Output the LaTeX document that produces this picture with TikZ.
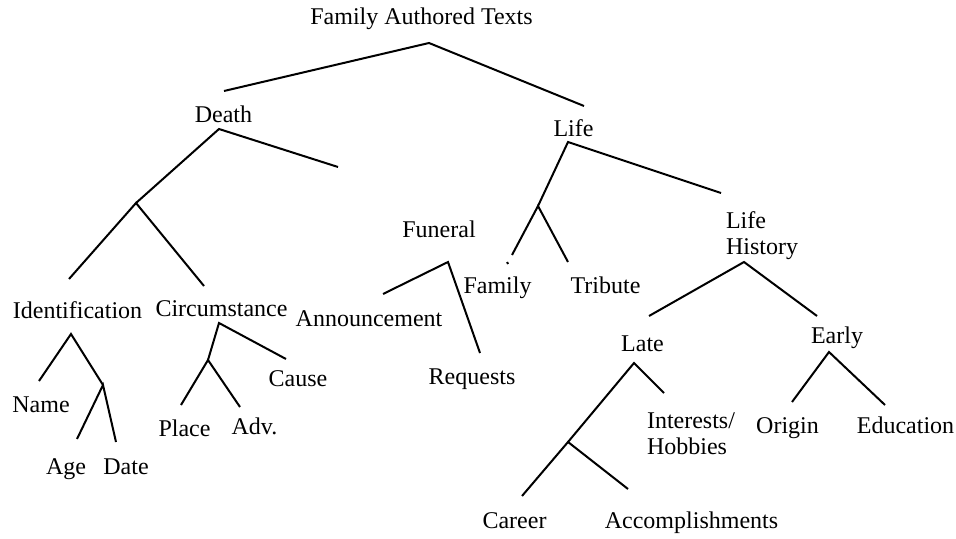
\documentclass[tikz,border=0pt]{standalone}
\usepackage{fontspec}
\setmainfont{Liberation Serif}
\begin{document}
\begin{tikzpicture}[x=0.5pt,y=-0.5pt,line width=1pt,
  lbl/.style={inner sep=0pt,anchor=base,font=\fontsize{12}{13}\selectfont},
  twoline/.style={lbl,anchor=north west,align=left}]
\useasboundingbox (0,0) rectangle (956,539);
% labels
\node[lbl] (root) at (421.5,25) {Family Authored Texts};
\node[lbl] (death) at (223.5,123) {Death};
\node[lbl] (life) at (573.5,137) {Life};
\node[lbl] (ident) at (77.5,318) {Identification};
\node[lbl] (circ) at (221.5,316) {Circumstance};
\node[lbl] (name) at (41,412) {Name};
\node[lbl] (age) at (66,474) {Age};
\node[lbl] (date) at (126,474) {Date};
\node[lbl] (place) at (184.5,436) {Place};
\node[lbl] (adv) at (254.5,434) {Adv.};
\node[lbl] (cause) at (298,386) {Cause};
\node[lbl] (funeral) at (439,238) {Funeral};
\node[lbl] (announce) at (369,326) {Announcement};
\node[lbl] (requests) at (472,384) {Requests};
\node[lbl] (family) at (497.5,293) {Family};
\node[lbl] (tribute) at (605.5,293) {Tribute};
\node[twoline] (lifehist) at (725,210.5) {Life\\History};
\node[lbl] (late) at (642.5,351) {Late};
\node[lbl] (early) at (837,343) {Early};
\node[twoline] (interests) at (646,411.5) {Interests/\\Hobbies};
\node[lbl] (career) at (514.5,528) {Career};
\node[lbl] (accomp) at (691.5,528) {Accomplishments};
\node[lbl] (origin) at (787.5,433) {Origin};
\node[lbl] (educ) at (905.5,433) {Education};
% junction points
\coordinate (rA) at (429,43);  \coordinate (rL) at (224,91);  \coordinate (rR) at (584,106);
\coordinate (dA) at (219,129); \coordinate (dR) at (338,167); \coordinate (dJ) at (136,203);
\coordinate (dJL) at (69,279); \coordinate (dJR) at (204,286);
\coordinate (iA) at (71,334);  \coordinate (iL) at (39,381);  \coordinate (iJ) at (103,385);
\coordinate (iJL) at (77,439); \coordinate (iJR) at (116,442);
\coordinate (cA) at (219,323); \coordinate (cR) at (286,359); \coordinate (cJ) at (208,360);
\coordinate (cJL) at (181,405); \coordinate (cJR) at (240,407);
\coordinate (fA) at (448,262); \coordinate (fL) at (383,294); \coordinate (fR) at (480,353);
\coordinate (lA) at (568,142); \coordinate (lR) at (721,193); \coordinate (lJ) at (538,206);
\coordinate (lJL) at (512,255); \coordinate (lJR) at (568,262);
\coordinate (tk1) at (507,262); \coordinate (tk2) at (508,264);
\coordinate (hA) at (744,262); \coordinate (hL) at (649,316); \coordinate (hR) at (817,316);
\coordinate (aA) at (634,363); \coordinate (aR) at (664,393); \coordinate (aJ) at (568,442);
\coordinate (aJL) at (522,496); \coordinate (aJR) at (628,489);
\coordinate (eA) at (829,352); \coordinate (eL) at (792,402); \coordinate (eR) at (885,405);
% connectors
\draw (rL) -- (rA) -- (rR);
\draw (dJ) -- (dA) -- (dR);
\draw (dJL) -- (dJ) -- (dJR);
\draw (iL) -- (iA) -- (iJ);
\draw (iJL) -- (iJ) -- (iJR);
\draw (cJ) -- (cA) -- (cR);
\draw (cJL) -- (cJ) -- (cJR);
\draw (fL) -- (fA) -- (fR);
\draw (lJ) -- (lA) -- (lR);
\draw (lJL) -- (lJ) -- (lJR);
\draw (tk1) -- (tk2);
\draw (hL) -- (hA) -- (hR);
\draw (aJ) -- (aA) -- (aR);
\draw (aJL) -- (aJ) -- (aJR);
\draw (eL) -- (eA) -- (eR);
\end{tikzpicture}
\end{document}
